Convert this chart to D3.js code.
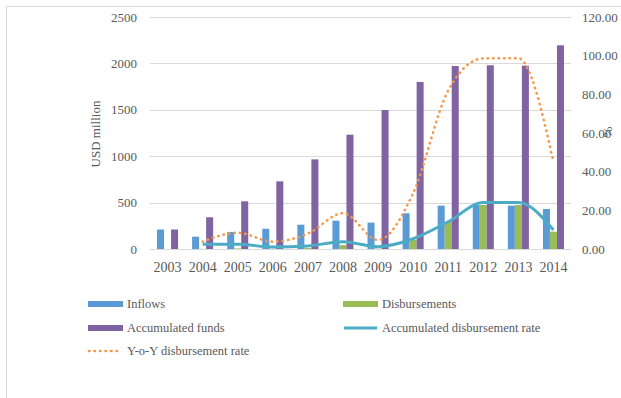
<!DOCTYPE html>
<html>
<head>
<meta charset="utf-8">
<script src="https://cdn.jsdelivr.net/npm/d3@7"></script>
<style>
    body { margin: 0; background: #fff; }
    svg text { font-family: "Liberation Serif", "DejaVu Serif", serif; fill: #595959; }
</style>
</head>
<body>
<svg class="chart" width="621" height="398"></svg>
<script>
var years = ["2003", "2004", "2005", "2006", "2007", "2008", "2009", "2010", "2011", "2012", "2013", "2014"];
var inflows = [210, 133, 184, 218, 262, 305, 284, 385, 467, 474, 467, 431];
var disbursements = [0, 2, 6, 3, 10, 42, 3, 97, 295, 474, 474, 187];
var accumulatedFunds = [210, 342, 514, 729, 966, 1232, 1498, 1800, 1972, 1980, 1976, 2195];
var accumRate = [null, 2.4, 2.5, 1.0, 1.6, 3.8, 1.2, 5.3, 14.1, 24.0, 24.0, 9.8];
var yoyRate = [null, 3.8, 8.4, 3.8, 8.0, 18.5, 4.7, 28.8, 82.0, 98.6, 98.6, 45.0];
var leftTicks = [0, 500, 1000, 1500, 2000, 2500];
var rightTicks = [0, 20, 40, 60, 80, 100, 120];

var barSeries = [
    { name: "Inflows", values: inflows, color: "#5b9bd5" },
    { name: "Disbursements", values: disbursements, color: "#9bbb59" },
    { name: "Accumulated funds", values: accumulatedFunds, color: "#8064a2" }
];

var svg = d3.select("svg.chart");
var plotLeft = 150, plotRight = 571, plotTop = 17, plotBottom = 249;

// outer frame, light grey, runs off the right and bottom edges
svg.append("rect")
    .attr("x", 6.5).attr("y", 6.5)
    .attr("width", 700).attr("height", 500)
    .attr("fill", "none")
    .attr("stroke", "#d9d9d9");

var x0 = d3.scaleBand()
    .domain(years)
    .range([plotLeft, plotRight])
    .paddingInner(0.4)
    .paddingOuter(0.2);

var x1 = d3.scaleBand()
    .domain(barSeries.map(function (s) { return s.name; }))
    .range([0, x0.bandwidth()]);

var yLeft = d3.scaleLinear().domain([0, 2500]).range([plotBottom, plotTop]);
var yRight = d3.scaleLinear().domain([0, 120]).range([plotBottom, plotTop]);

// gridlines
svg.append("g")
    .selectAll("line")
    .data(leftTicks)
    .enter()
    .append("line")
    .attr("x1", plotLeft).attr("x2", plotRight)
    .attr("y1", function (d) { return Math.round(yLeft(d)) + 0.5; })
    .attr("y2", function (d) { return Math.round(yLeft(d)) + 0.5; })
    .attr("stroke", "#d9d9d9");

// left axis
var leftAxis = svg.append("g")
    .attr("transform", "translate(" + (plotLeft - 13) + ",0)")
    .call(d3.axisLeft(yLeft).tickValues(leftTicks).tickSize(0).tickPadding(0)
        .tickFormat(d3.format("d")));
leftAxis.select(".domain").remove();
leftAxis.selectAll("text").style("font-size", "13px").attr("fill", null);

// right axis
var rightAxis = svg.append("g")
    .attr("transform", "translate(582,0)")
    .call(d3.axisRight(yRight).tickValues(rightTicks).tickSize(0).tickPadding(0)
        .tickFormat(d3.format(".2f")));
rightAxis.select(".domain").remove();
rightAxis.selectAll("text").style("font-size", "13px").attr("fill", null);

// x axis labels
svg.append("g")
    .selectAll("text")
    .data(years)
    .enter()
    .append("text")
    .attr("x", function (d) { return x0(d) + x0.bandwidth() / 2; })
    .attr("y", 272)
    .attr("text-anchor", "middle")
    .style("font-size", "14px")
    .text(function (d) { return d; });

// axis titles
svg.append("text")
    .attr("transform", "translate(100,134) rotate(-90)")
    .attr("text-anchor", "middle")
    .style("font-size", "13px")
    .text("USD million");
svg.append("text")
    .attr("transform", "translate(612,132) rotate(-90)")
    .attr("text-anchor", "middle")
    .style("font-size", "13px")
    .text("%");

// bars
barSeries.forEach(function (s) {
    svg.append("g")
        .selectAll("rect")
        .data(s.values)
        .enter()
        .append("rect")
        .attr("x", function (d, i) { return x0(years[i]) + x1(s.name); })
        .attr("width", x1.bandwidth())
        .attr("y", function (d) { return yLeft(d); })
        .attr("height", function (d) { return plotBottom - yLeft(d); })
        .attr("fill", s.color);
});

var lineGen = d3.line()
    .defined(function (d) { return d != null; })
    .x(function (d, i) { return x0(years[i]) + x0.bandwidth() / 2; })
    .y(function (d) { return yRight(d); })
    .curve(d3.curveMonotoneX);

svg.append("path")
    .attr("d", lineGen(yoyRate))
    .attr("fill", "none")
    .attr("stroke", "#f79646")
    .attr("stroke-width", 2.5)
    .attr("stroke-linecap", "round")
    .attr("stroke-dasharray", "0.5,5");

svg.append("path")
    .attr("d", lineGen(accumRate))
    .attr("fill", "none")
    .attr("stroke", "#4bacc6")
    .attr("stroke-width", 3)
    .attr("stroke-linejoin", "round");

// legend
var legendItems = [
    { name: "Inflows", color: "#5b9bd5", kind: "bar", x: 88, y: 304 },
    { name: "Disbursements", color: "#9bbb59", kind: "bar", x: 343, y: 304 },
    { name: "Accumulated funds", color: "#8064a2", kind: "bar", x: 88, y: 328 },
    { name: "Accumulated disbursement rate", color: "#4bacc6", kind: "line", x: 343, y: 328 },
    { name: "Y-o-Y disbursement rate", color: "#f79646", kind: "dot", x: 88, y: 351 }
];

var legend = svg.append("g")
    .selectAll("g")
    .data(legendItems)
    .enter()
    .append("g")
    .attr("transform", function (d) { return "translate(" + d.x + "," + d.y + ")"; });

legend.filter(function (d) { return d.kind === "bar"; })
    .append("rect")
    .attr("x", 0).attr("y", -3)
    .attr("width", 35).attr("height", 6)
    .attr("fill", function (d) { return d.color; });

legend.filter(function (d) { return d.kind !== "bar"; })
    .append("line")
    .attr("x1", 1).attr("x2", 34)
    .attr("y1", 0).attr("y2", 0)
    .attr("stroke", function (d) { return d.color; })
    .attr("stroke-width", function (d) { return d.kind === "dot" ? 2.5 : 3; })
    .attr("stroke-linecap", function (d) { return d.kind === "dot" ? "round" : "butt"; })
    .attr("stroke-dasharray", function (d) { return d.kind === "dot" ? "0.5,5" : null; });

legend.append("text")
    .attr("x", 39)
    .attr("y", 4)
    .style("font-size", "12.5px")
    .text(function (d) { return d.name; });
</script>
</body>
</html>
